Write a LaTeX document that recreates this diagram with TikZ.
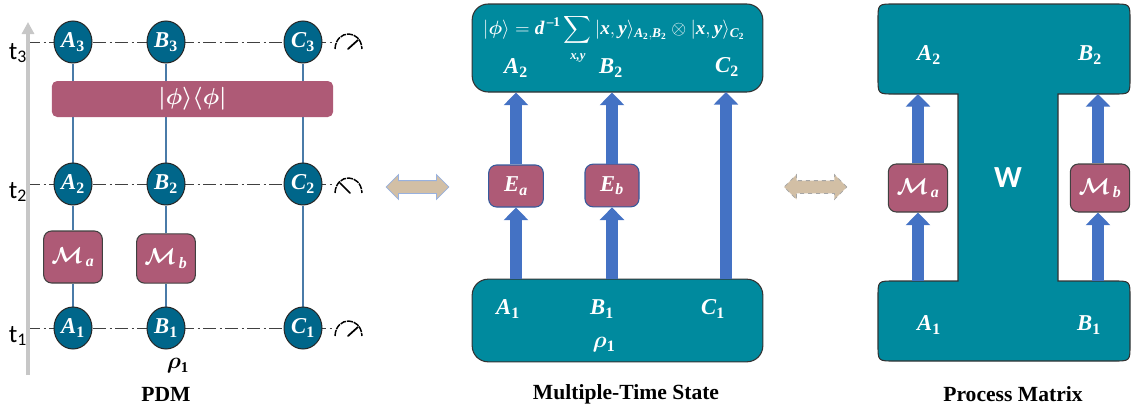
\documentclass[tikz,border=0pt]{standalone}
\usepackage{amsmath,amssymb,bm,graphicx}
\usepackage{fontspec}
\setmainfont{Liberation Serif}
\newfontfamily\sansf{Carlito}
\usetikzlibrary{arrows.meta,shapes.geometric,shapes.arrows,backgrounds,calc}
\definecolor{tealbox}{HTML}{008A9E}
\definecolor{nodeblue}{HTML}{00668A}
\definecolor{magbox}{HTML}{AE5A76}
\definecolor{wire}{HTML}{4A7BA8}
\definecolor{blockblue}{HTML}{4472C4}
\definecolor{tan}{HTML}{D2BFA5}
\newcommand{\biv}[1]{\text{\bfseries\itshape #1}}
\newcommand{\bsub}[1]{\text{\bfseries #1}}
\newcommand{\lab}[2]{$\biv{#1}_{\bsub{#2}}$}
\newcommand{\labi}[2]{$\biv{#1}_{\biv{#2}}$}
\newcommand{\calm}[1]{$\bm{\mathcal{M}}_{\,\biv{#1}}$}
\tikzset{
  x=0.75pt,y=-0.75pt,
  qubit/.style={ellipse,draw=black!85,line width=0.75pt,fill=nodeblue,text=white,minimum width=28.5pt,minimum height=31.5pt,inner sep=0pt,font=\fontsize{17}{19}\selectfont},
  opbox/.style={rectangle,rounded corners=6pt,draw=black!75,line width=0.8pt,fill=magbox,text=white,inner sep=0pt,font=\fontsize{17}{19}\selectfont},
  opboxb/.style={opbox,draw=blockblue!80!black},
  bigbox/.style={rectangle,rounded corners=12pt,draw=black!80,line width=0.8pt,fill=tealbox,inner sep=0pt},
  wlabel/.style={text=white,inner sep=0pt,font=\fontsize{17}{19}\selectfont},
  wireline/.style={draw=wire,line width=1.6pt},
  timeline/.style={draw=black!75,line width=0.65pt,dash pattern=on 10pt off 2.5pt on 1.5pt off 2.5pt},
  blockarrow/.style={draw=blockblue,line width=9pt,-{Triangle[width=18pt,length=9.5pt,fill=blockblue]}},
  twoway/.style={double arrow,double arrow head extend=4.5pt,fill=tan,minimum height=47pt,minimum width=0pt,inner xsep=0pt,inner ysep=4.5pt,line width=0.6pt},
  caption/.style={font=\fontsize{16.2}{18}\selectfont\bfseries,inner sep=0pt},
  tlabel/.style={font=\sansf\fontsize{19}{21}\selectfont,inner sep=0pt},
  dial/.style={line width=1.1pt,dash pattern=on 4.5pt off 0.7pt},
  needle/.style={line width=1.3pt,line cap=round}
}
\begin{document}
\begin{tikzpicture}
\useasboundingbox (0,0) rectangle (1143,414);
% time axis
\coordinate (axb) at (28,375);
\coordinate (axt) at (28,22);
\draw[draw=black!22,line width=2.8pt,-{Triangle[width=9pt,length=9pt]}] (axb) -- (axt);
\node[tlabel] (t3) at (18,53) {t$_{\text{3}}$};
\node[tlabel] (t2) at (18,192) {t$_{\text{2}}$};
\node[tlabel] (t1) at (18,336) {t$_{\text{1}}$};
% PDM nodes
\node[qubit] (A3) at (73,42) {\lab{A}{3}};
\node[qubit] (B3) at (166,42) {\lab{B}{3}};
\node[qubit] (C3) at (303,42) {\lab{C}{3}};
\node[qubit] (A2) at (73,184) {\lab{A}{2}};
\node[qubit] (B2) at (166,184) {\lab{B}{2}};
\node[qubit] (C2) at (303,184) {\lab{C}{2}};
\node[qubit] (A1) at (73,328) {\lab{A}{1}};
\node[qubit] (B1) at (166,328) {\lab{B}{1}};
\node[qubit] (C1) at (303,328) {\lab{C}{1}};
\node[opbox,draw=none,rounded corners=4pt,minimum width=211pt,minimum height=27pt] (phi) at (192.5,99) {$\bm{|\phi\rangle\langle\phi|}$};
\node[opbox,minimum width=44pt,minimum height=39pt] (Ma) at (73,257) {\calm{a}};
\node[opbox,minimum width=44pt,minimum height=37pt] (Mb) at (166,258.5) {\calm{b}};
\coordinate (d3) at (332,42);
\coordinate (d2) at (332,184);
\coordinate (d1) at (332,328);
\coordinate (l3) at (27,42);
\coordinate (l2) at (27,184);
\coordinate (l1) at (27,328);
\begin{pgfonlayer}{background}
\draw[wireline] (A1) -- (Ma);
\draw[wireline] (Ma) -- (A2);
\draw[wireline] (A2) -- (A3);
\draw[wireline] (B1) -- (Mb);
\draw[wireline] (Mb) -- (B2);
\draw[wireline] (B2) -- (B3);
\draw[wireline] (C1) -- (C2);
\draw[wireline] (C2) -- (C3);
\draw[timeline] (l3) -- (d3);
\draw[timeline] (l2) -- (d2);
\draw[timeline] (l1) -- (d1);
\end{pgfonlayer}
% meters
\draw[dial] (335,49) .. controls (336,29) and (361,29) .. (362,49);
\draw[needle] (348,49) -- (358,40);
\draw[dial] (335,193) .. controls (336,173) and (361,173) .. (362,193);
\draw[needle] (350,193) -- (340,183);
\draw[dial] (335,336) .. controls (336,316) and (361,316) .. (362,336);
\draw[needle] (348,336) -- (358,327);
\node[inner sep=0pt,font=\fontsize{16}{18}\selectfont] (rho) at (178,366) {$\bm{\rho}_{\bsub{1}}$};
\node[caption] (cap1) at (166,394) {PDM};
% double arrows
\node[twoway,draw=blockblue!55] (dbl1) at (417.5,187) {};
\node[twoway,draw=black!35,dashed] (dbl2) at (815.5,187) {};
% Multiple-time state
\node[bigbox,minimum width=218pt,minimum height=66pt] (mtop) at (617.5,48) {};
\node[bigbox,minimum width=218pt,minimum height=62pt] (mbot) at (617.5,320.5) {};
\node[opboxb,minimum width=41pt,minimum height=31.5pt] (Ea) at (516,186) {\labi{E}{a}};
\node[opboxb,minimum width=40.5pt,minimum height=32pt] (Eb) at (612,185.5) {\labi{E}{b}};
\node[wlabel,font=\fontsize{14.4}{16}\selectfont,anchor=base] (eq) at (614,35) {$\displaystyle|\bm{\phi}\rangle = \biv{d}^{\,\bsub{--1}}\sum_{\raisebox{-2pt}{\fontsize{9.5}{10}\selectfont$\biv{x,y}$}}|\biv{x},\biv{y}\rangle_{\biv{A}_{\bsub{2}},\biv{B}_{\bsub{2}}}\otimes|\biv{x},\biv{y}\rangle_{\biv{C}_{\bsub{2}}}$};
\node[wlabel] (ltA2) at (516,68) {\lab{A}{2}};
\node[wlabel] (ltB2) at (611,68) {\lab{B}{2}};
\node[wlabel] (ltC2) at (727,67) {\lab{C}{2}};
\node[wlabel] (lbA1) at (508,309) {\lab{A}{1}};
\node[wlabel] (lbB1) at (602,309) {\lab{B}{1}};
\node[wlabel] (lbC1) at (713,309) {\lab{C}{1}};
\node[wlabel] (lrho) at (604,345) {$\bm{\rho}_{\bsub{1}}$};
\coordinate (cb) at (726,279);
\coordinate (ct) at (726,92);
\draw[blockarrow] (cb) -- (ct);
\draw[blockarrow] (Ea.south |- mbot.north) -- (Ea.south);
\draw[blockarrow] (Ea.north) -- (Ea.north |- mtop.south);
\draw[blockarrow] (Eb.south |- mbot.north) -- (Eb.south);
\draw[blockarrow] (Eb.north) -- (Eb.north |- mtop.south);
% W process
\draw[fill=tealbox,draw=black!80,line width=0.8pt]
  (894,4) -- (1114,4) .. controls (1130,4) .. (1130,20) -- (1130,78) .. controls (1130,94) .. (1114,94)
  -- (1058,94) -- (1058,281) -- (1114,281) .. controls (1130,281) .. (1130,297) -- (1130,345)
  .. controls (1130,361) .. (1114,361) -- (894,361) .. controls (878,361) .. (878,345)
  -- (878,297) .. controls (878,281) .. (894,281) -- (958,281) -- (958,94) -- (894,94)
  .. controls (878,94) .. (878,78) -- (878,20) .. controls (878,4) .. (894,4) -- cycle;
\node[wlabel] (pA2) at (929,55) {\lab{A}{2}};
\node[wlabel] (pB2) at (1090,55) {\lab{B}{2}};
\node[wlabel] (pA1) at (929,325) {\lab{A}{1}};
\node[wlabel] (pB1) at (1089,325) {\lab{B}{1}};
\node[text=white,inner sep=0pt,font=\sansf\fontsize{23}{25}\selectfont\bfseries] (W) at (1008,178) {W};
\node[opbox,minimum width=44.5pt,minimum height=36pt] (pMa) at (918,188) {\calm{a}};
\node[opbox,minimum width=44.5pt,minimum height=36pt] (pMb) at (1100,188) {\calm{b}};
\coordinate (wat) at (918,94);
\coordinate (wab) at (918,281);
\coordinate (wbt) at (1098,94);
\coordinate (wbb) at (1098,281);
\draw[blockarrow] (wab) -- (wab |- pMa.south);
\draw[blockarrow] (wab |- pMa.north) -- (wat);
\draw[blockarrow] (wbb) -- (wbb |- pMb.south);
\draw[blockarrow] (wbb |- pMb.north) -- (wbt);
\node[caption] (cap2) at (626,394) {Multiple-Time State};
\node[caption] (cap3) at (1013,394) {Process Matrix};
\end{tikzpicture}
\end{document}
